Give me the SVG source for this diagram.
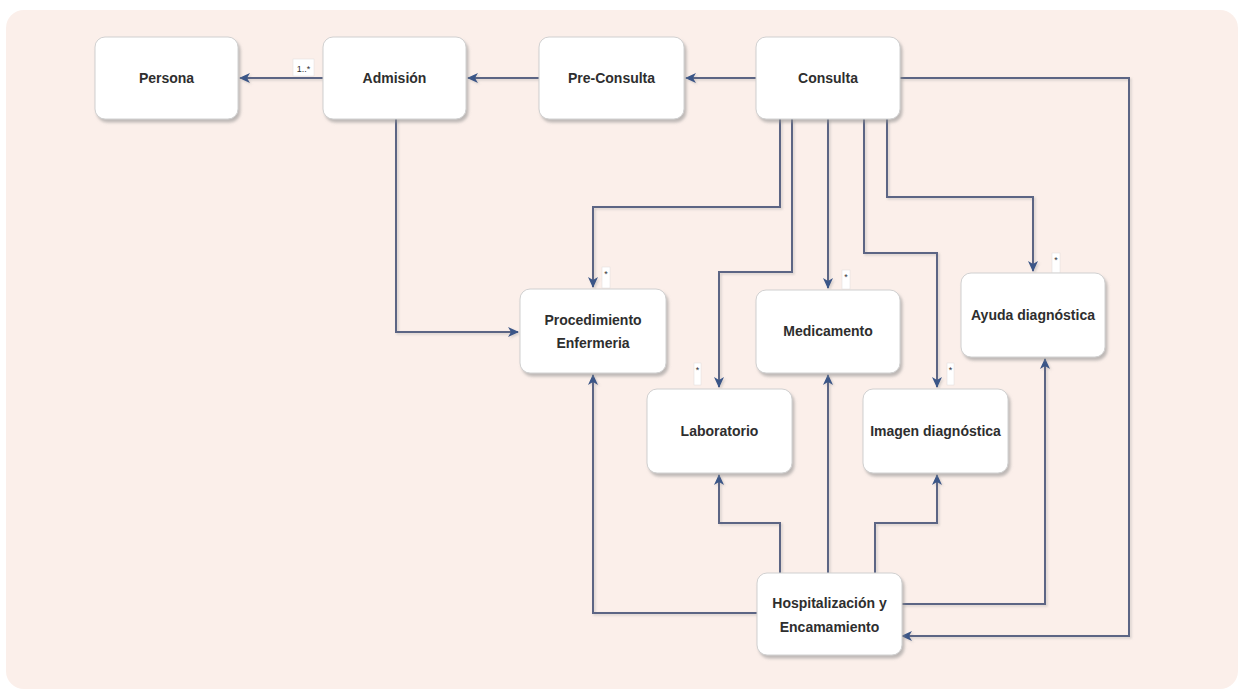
<svg xmlns="http://www.w3.org/2000/svg" width="1240" height="689" viewBox="0 0 1240 689">
  <defs>
    <style>
      .node rect { fill: #ffffff; stroke: #d0d0d0; stroke-width: 1; filter: url(#shadow); }
      .node text { font-family: "Liberation Sans", Arial, sans-serif; font-weight: bold; font-size: 14px; fill: #2e2e2e; text-anchor: middle; dominant-baseline: central; }
      .conn path { fill: none; stroke: #5b6584; stroke-width: 2; }
      .arr { marker-end: url(#arrow); }
      .mult rect { fill: #ffffff; stroke: #e0dcdc; stroke-width: 0.5; }
      .mult text { font-family: "Liberation Sans", Arial, sans-serif; font-size: 9px; fill: #333; text-anchor: middle; }
    </style>
    <filter id="shadow" x="-10%" y="-10%" width="130%" height="140%">
      <feDropShadow dx="2" dy="3" stdDeviation="1.5" flood-color="#8a8a8a" flood-opacity="0.55"/>
    </filter>
    <filter id="lshadow" filterUnits="userSpaceOnUse" x="0" y="0" width="1240" height="689">
      <feDropShadow dx="1.5" dy="1.5" stdDeviation="1" flood-color="#999" flood-opacity="0.4"/>
    </filter>
    <marker id="arrow" markerWidth="12" markerHeight="10" refX="10" refY="5" orient="auto" markerUnits="userSpaceOnUse">
      <path d="M0,0 L11,5 L0,10 L3,5 Z" fill="#3a5688"/>
    </marker>
  </defs>

  <rect x="6" y="10" width="1232" height="679" rx="18" ry="18" fill="#fbefea"/>

  <g id="connectors" class="conn" filter="url(#lshadow)">
    <path class="arr" d="M323,78 H240"/>
    <path class="arr" d="M539,78 H468"/>
    <path class="arr" d="M756,78 H686"/>
    <path class="arr" d="M900,78 H1129 V636 H902"/>
    <path class="arr" d="M780,119 V207 H593 V287"/>
    <path class="arr" d="M792,119 V272 H719 V387"/>
    <path class="arr" d="M828,119 V288"/>
    <path class="arr" d="M864,119 V253 H937 V387"/>
    <path class="arr" d="M887,119 V197 H1033 V271"/>
    <path class="arr" d="M396,119 V332 H518"/>
    <path class="arr" d="M757,613 H593 V375"/>
    <path class="arr" d="M780,573 V523 H719 V475"/>
    <path class="arr" d="M828,573 V375"/>
    <path class="arr" d="M875,573 V523 H937 V475"/>
    <path class="arr" d="M902,604 H1045 V359"/>
  </g>

  <g id="multiplicities" class="mult">
    <g id="m-persona"><rect x="293" y="59" width="21" height="17"/><text x="303.5" y="72" font-size="10">1..*</text></g>
    <g id="m-proc"><rect x="602" y="267" width="8" height="21"/><text x="606" y="277">*</text></g>
    <g id="m-lab"><rect x="694" y="363" width="7" height="22"/><text x="697.5" y="373">*</text></g>
    <g id="m-med"><rect x="842" y="270" width="8" height="19"/><text x="846" y="280">*</text></g>
    <g id="m-ayuda"><rect x="1052" y="253" width="8" height="20"/><text x="1056" y="263">*</text></g>
    <g id="m-img"><rect x="947" y="363" width="7" height="22"/><text x="950.5" y="373">*</text></g>
  </g>

  <g id="node-persona" class="node">
    <rect x="95" y="37" width="143" height="82" rx="10"/>
    <text x="166.5" y="78">Persona</text>
  </g>
  <g id="node-admision" class="node">
    <rect x="323" y="37" width="143" height="82" rx="10"/>
    <text x="394.5" y="78">Admisión</text>
  </g>
  <g id="node-preconsulta" class="node">
    <rect x="539" y="37" width="145" height="82" rx="10"/>
    <text x="611.5" y="78">Pre-Consulta</text>
  </g>
  <g id="node-consulta" class="node">
    <rect x="756" y="37" width="144" height="82" rx="10"/>
    <text x="828" y="78">Consulta</text>
  </g>
  <g id="node-procedimiento" class="node">
    <rect x="520" y="289" width="146" height="84" rx="10"/>
    <text x="593" y="320">Procedimiento</text>
    <text x="593" y="343">Enfermeria</text>
  </g>
  <g id="node-medicamento" class="node">
    <rect x="756" y="290" width="144" height="83" rx="10"/>
    <text x="828" y="331">Medicamento</text>
  </g>
  <g id="node-ayuda" class="node">
    <rect x="961" y="273" width="144" height="84" rx="10"/>
    <text x="1033" y="315">Ayuda diagnóstica</text>
  </g>
  <g id="node-laboratorio" class="node">
    <rect x="647" y="389" width="145" height="84" rx="10"/>
    <text x="719.5" y="431">Laboratorio</text>
  </g>
  <g id="node-imagen" class="node">
    <rect x="863" y="389" width="145" height="84" rx="10"/>
    <text x="935.5" y="431">Imagen diagnóstica</text>
  </g>
  <g id="node-hospitalizacion" class="node">
    <rect x="757" y="573" width="145" height="82" rx="10"/>
    <text x="829.5" y="603">Hospitalización y</text>
    <text x="829.5" y="627">Encamamiento</text>
  </g>
</svg>
